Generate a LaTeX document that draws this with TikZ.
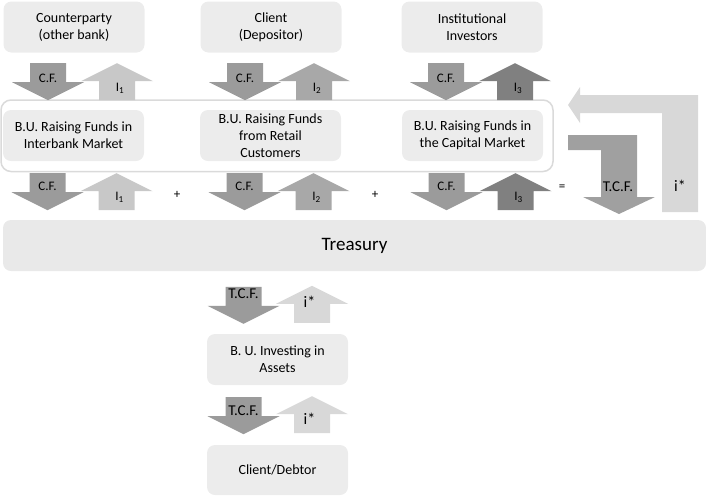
\documentclass[tikz,border=0pt]{standalone}
\usepackage{fontspec}
\setmainfont{Carlito}
\usetikzlibrary{positioning,calc}

\definecolor{boxFill}{RGB}{236,236,236}
\definecolor{trFill}{RGB}{233,233,233}
\definecolor{frameGray}{RGB}{218,218,218}
\definecolor{cfGray}{RGB}{155,155,155}
\definecolor{iOne}{RGB}{200,200,200}
\definecolor{iTwo}{RGB}{168,168,168}
\definecolor{iThree}{RGB}{128,128,128}
\definecolor{iStar}{RGB}{216,216,216}
\definecolor{tcfGray}{RGB}{160,160,160}

% block arrows: #1 colour, #2 top centre (down) / bottom centre (up)
\newcommand{\arrDown}[2]{\fill[#1] (#2) ++(-18,0) -- ++(36,0) -- ++(0,19) -- ++(18,0) -- ++(-36,18) -- ++(-36,-18) -- ++(18,0) -- cycle;}
\newcommand{\arrUp}[2]{\fill[#1] (#2) ++(-18,0) -- ++(36,0) -- ++(0,-19) -- ++(18,0) -- ++(-36,-18) -- ++(-36,18) -- ++(18,0) -- cycle;}

\begin{document}
\begin{tikzpicture}[x=1pt,y=-1pt,
    box/.style={fill=boxFill, rounded corners=8pt, minimum width=141pt, minimum height=51pt,
      align=center, inner sep=0pt, font=\fontsize{14}{17}\selectfont},
    lbl/.style={inner sep=0pt, font=\fontsize{13}{15}\selectfont},
    tlbl/.style={inner sep=0pt, font=\fontsize{15}{17}\selectfont},
    slbl/.style={inner sep=0pt, font=\fontsize{16}{18}\selectfont}]
    \useasboundingbox (0,0) rectangle (706,496);

    % sources
    \node[box] (cp) at (74,27) {Counterparty\\(other bank)};
    \node[box] (cl) at (271,27) {Client\\(Depositor)};
    \node[box] (ii) at (472,27) {Institutional\\Investors};

    % business units raising funds
    \node[box] (bu1) at (73.5,135.5) {B.U. Raising Funds in\\Interbank Market};
    \node[box] (bu2) at (270.5,135.5) {B.U. Raising Funds\\from Retail\\Customers};
    \node[box] (bu3) at (472.5,135.5) {B.U. Raising Funds in\\the Capital Market};
    \draw[frameGray, line width=1.5pt, rounded corners=10pt] (1,100) rectangle (553,171.5);

    % cash flows and rates
    \foreach \b/\u/\c/\n in {cp/bu1/iOne/1, cl/bu2/iTwo/2, ii/bu3/iThree/3} {
      \arrDown{cfGray}{$(\b.south)+(-26,10.5)$}
      \arrUp{\c}{$(\b.south)+(43,47.5)$}
      \node[lbl] (cfa\n) at ($(\b.south)+(-26,25.5)$) {C.F.};
      \node[lbl] (ia\n) at ($(\b.south)+(46,35.5)$) {I\textsubscript{\n}};
      \arrDown{cfGray}{$(\u.south)+(-26,12)$}
      \arrUp{\c}{$(\u.south)+(43,49)$}
      \node[lbl] (cfb\n) at ($(\u.south)+(-26,25)$) {C.F.};
      \node[lbl] (ib\n) at ($(\u.south)+(46,36)$) {I\textsubscript{\n}};
    }
    \node[lbl] (plus1) at (177,195) {+};
    \node[lbl] (plus2) at (375,195) {+};
    \node[lbl] (eq) at (562,188) {=};

    % total cash flow and transfer rate
    \fill[iStar] (568,105) -- (580,87) -- (580,95) -- (698,95) -- (698,212) -- (662,212)
      -- (662,113) -- (580,113) -- (580,123) -- cycle;
    \fill[tcfGray] (568,135) -- (637,135) -- (637,197) -- (655,197) -- (619,214) -- (583,197)
      -- (601,197) -- (601,150) -- (568,150) -- cycle;
    \node[tlbl] (tcf) at (618,187) {T.C.F.};
    \node[slbl] (istar) at (680,186) {i*};

    % treasury
    \node[box, fill=trFill, minimum width=703pt, font=\fontsize{19}{22}\selectfont] (tr) at (354.5,245.5) {Treasury};

    % lending side
    \node[box] (inv) at (277.5,359.5) {B. U. Investing in\\Assets};
    \node[box, minimum height=50pt] (deb) at (277.5,470) {Client/Debtor};

    \arrDown{cfGray}{$(inv.north)+(-34,-47)$}
    \arrUp{iStar}{$(inv.north)+(34.5,-11)$}
    \node[tlbl] (tcf1) at ($(inv.north)+(-34,-40)$) {T.C.F.};
    \node[slbl] (is1) at ($(inv.north)+(32,-32)$) {i*};
    \arrDown{cfGray}{$(inv.south)+(-34,12)$}
    \arrUp{iStar}{$(inv.south)+(34.5,48)$}
    \node[tlbl] (tcf2) at ($(inv.south)+(-34,25)$) {T.C.F.};
    \node[slbl] (is2) at ($(inv.south)+(32,34)$) {i*};
  \end{tikzpicture}
\end{document}
